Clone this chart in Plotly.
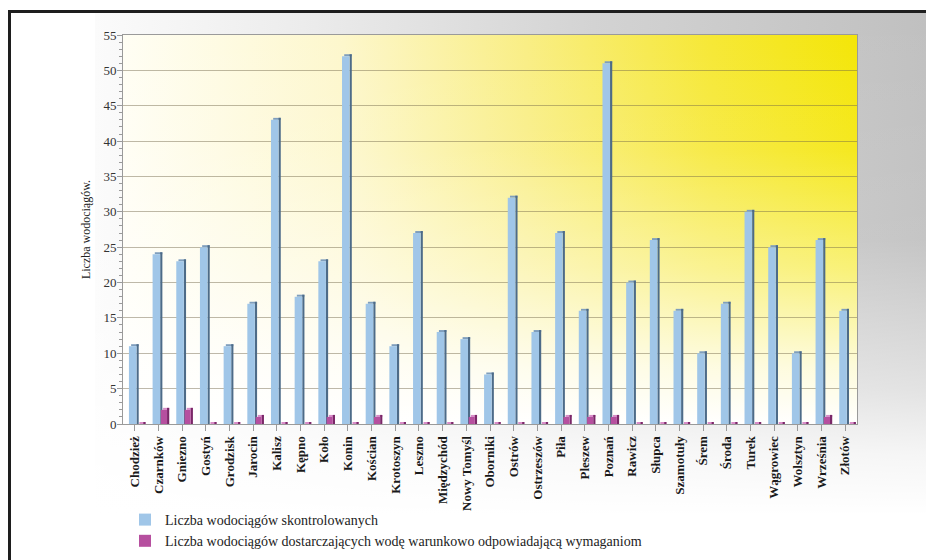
import base64
import plotly.graph_objects as go

# Waterworks per district
districts = [
    "Chodzież", "Czarnków", "Gniezno", "Gostyń", "Grodzisk", "Jarocin", "Kalisz",
    "Kępno", "Koło", "Konin", "Kościan", "Krotoszyn", "Leszno", "Międzychód",
    "Nowy Tomyśl", "Oborniki", "Ostrów", "Ostrzeszów", "Piła", "Pleszew", "Poznań",
    "Rawicz", "Słupca", "Szamotuły", "Śrem", "Środa", "Turek", "Wągrowiec",
    "Wolsztyn", "Września", "Złotów",
]
controlled = [11, 24, 23, 25, 11, 17, 43, 18, 23, 52, 17, 11, 27, 13, 12, 7,
              32, 13, 27, 16, 51, 20, 26, 16, 10, 17, 30, 25, 10, 26, 16]
conditional = [0, 2, 2, 0, 0, 1, 0, 0, 1, 0, 1, 0, 0, 0, 1, 0,
               0, 0, 1, 1, 1, 0, 0, 0, 0, 0, 0, 0, 0, 1, 0]

name_a = "Liczba wodociągów skontrolowanych"
name_b = "Liczba wodociągów dostarczających wodę warunkowo odpowiadającą wymaganiom"

W, H = 926, 560
PL, PR, PT, PB = 123, 857, 35, 424          # plot area in pixels
PW, PH = PR - PL, PB - PT
YMAX = 55
n = len(districts)
px_per_cat = PW / n
px_per_unit = PH / YMAX

depth_x = 2.2 / px_per_cat        # 3-D side depth, category units
depth_y = 2.0 / px_per_unit       # 3-D top depth, value units

x = list(range(n))


def bars3d(values, face_off, face_w, face, side, top, name):
    """Pseudo 3-D column: top cap, side panel and front face."""
    return [
        go.Bar(x=x, y=[depth_y] * n, base=list(values), offset=face_off + depth_x,
               width=face_w, marker=dict(color=top, line=dict(width=0)),
               showlegend=False, hoverinfo="skip"),
        go.Bar(x=x, y=[v + depth_y for v in values], base=[0] * n,
               offset=face_off + face_w, width=depth_x,
               marker=dict(color=side, line=dict(width=0)),
               showlegend=False, hoverinfo="skip"),
        go.Bar(x=x, y=values, offset=face_off, width=face_w, name=name,
               marker=dict(color=face, line=dict(width=0))),
    ]


traces = []
traces += bars3d(controlled, -0.25, 0.32, "#a0c6e8", "#4d6b88", "#7f9ebd", name_a)
traces += bars3d(conditional, 0.10, 0.26, "#b64f9f", "#7a2768", "#d88cc8", name_b)

fig = go.Figure(traces)

# background art: frame, outer gradient, plot-area gradient
svg = f"""<svg xmlns='http://www.w3.org/2000/svg' width='{W}' height='{H}' viewBox='0 0 {W} {H}' preserveAspectRatio='none'>
<defs>
<linearGradient id='oh' x1='0' y1='0' x2='1' y2='0'>
<stop offset='0' stop-color='#fbfbfb'/><stop offset='0.25' stop-color='#ececec'/>
<stop offset='0.6' stop-color='#d3d3d3'/><stop offset='1' stop-color='#c0c0c0'/>
</linearGradient>
<linearGradient id='ov' x1='0' y1='0' x2='0' y2='1'>
<stop offset='0' stop-color='#ffffff' stop-opacity='0'/>
<stop offset='0.45' stop-color='#ffffff' stop-opacity='0.08'/>
<stop offset='0.75' stop-color='#ffffff' stop-opacity='0.55'/>
<stop offset='0.88' stop-color='#ffffff' stop-opacity='0.85'/>
<stop offset='1' stop-color='#ffffff' stop-opacity='1'/>
</linearGradient>
<linearGradient id='ph' x1='0' y1='0' x2='1' y2='0'>
<stop offset='0' stop-color='#fffef4'/><stop offset='0.3' stop-color='#fdf7cc'/>
<stop offset='0.55' stop-color='#f9ee84'/><stop offset='0.8' stop-color='#f6e836'/>
<stop offset='1' stop-color='#f4e608'/>
</linearGradient>
<linearGradient id='pv' x1='0' y1='0' x2='0' y2='1'>
<stop offset='0' stop-color='#ffffff' stop-opacity='0'/>
<stop offset='0.3' stop-color='#ffffff' stop-opacity='0.1'/>
<stop offset='0.6' stop-color='#ffffff' stop-opacity='0.45'/>
<stop offset='0.85' stop-color='#ffffff' stop-opacity='0.85'/>
<stop offset='1' stop-color='#ffffff' stop-opacity='1'/>
</linearGradient>
</defs>
<rect width='{W}' height='{H}' fill='#ffffff'/>
<rect x='95' y='12' width='{W - 95}' height='503' fill='url(#oh)'/>
<rect x='95' y='12' width='{W - 95}' height='503' fill='url(#ov)'/>
<rect x='{PL}' y='{PT}' width='{PW}' height='{PH}' fill='url(#ph)'/>
<rect x='{PL}' y='{PT}' width='{PW}' height='{PH}' fill='url(#pv)'/>
<rect x='8' y='10' width='{W - 8}' height='3' fill='#1e1e1e'/>
<rect x='8' y='10' width='3' height='{H - 10}' fill='#1e1e1e'/>
</svg>"""
src = "data:image/svg+xml;base64," + base64.b64encode(svg.encode("utf-8")).decode()

fig.add_layout_image(
    source=src, xref="paper", yref="paper",
    x=-PL / PW, y=PB / PH, sizex=W / PW, sizey=H / PH,
    xanchor="left", yanchor="top", sizing="stretch", layer="below",
)

serif = "'Liberation Serif', 'Times New Roman', 'DejaVu Serif', serif"
axis_col = "#9a9a9a"

fig.update_layout(
    width=W, height=H,
    margin=dict(l=PL, r=W - PR, t=PT, b=H - PB, autoexpand=False),
    paper_bgcolor="rgba(0,0,0,0)", plot_bgcolor="rgba(0,0,0,0)",
    barmode="overlay",
    font=dict(family=serif, color="#222222"),
    showlegend=True,
    legend=dict(
        x=(125 - PL) / PW, y=(PB - 504) / PH, xanchor="left", yanchor="top",
        bgcolor="rgba(0,0,0,0)", font=dict(family=serif, size=14, color="#222222"),
        itemwidth=30, tracegroupgap=4,
    ),
    xaxis=dict(
        range=[-0.5, n - 0.5], tickmode="array", tickvals=x, ticktext=districts,
        tickangle=-90, tickson="boundaries", ticks="outside", ticklen=6,
        tickcolor=axis_col, showline=True, linecolor=axis_col, mirror=True,
        showgrid=False, zeroline=False, automargin=False,
        tickfont=dict(family=serif, size=13, color="#1a1a1a", weight="bold"),
    ),
    yaxis=dict(
        range=[0, YMAX], dtick=5, ticks="outside", ticklen=5, tickcolor=axis_col,
        showline=True, linecolor=axis_col, mirror=True, automargin=False,
        showgrid=True, gridcolor="rgba(110,100,70,0.45)", gridwidth=1,
        zeroline=False, ticklabelstandoff=-2,
        minor=dict(dtick=1, ticks="outside", ticklen=3, tickcolor=axis_col, showgrid=False),
        tickfont=dict(family=serif, size=13, color="#333333"),
        title=dict(text="Liczba wodociągów.", standoff=10,
                   font=dict(family=serif, size=12, color="#222222")),
    ),
)

fig.write_html("out.html")
